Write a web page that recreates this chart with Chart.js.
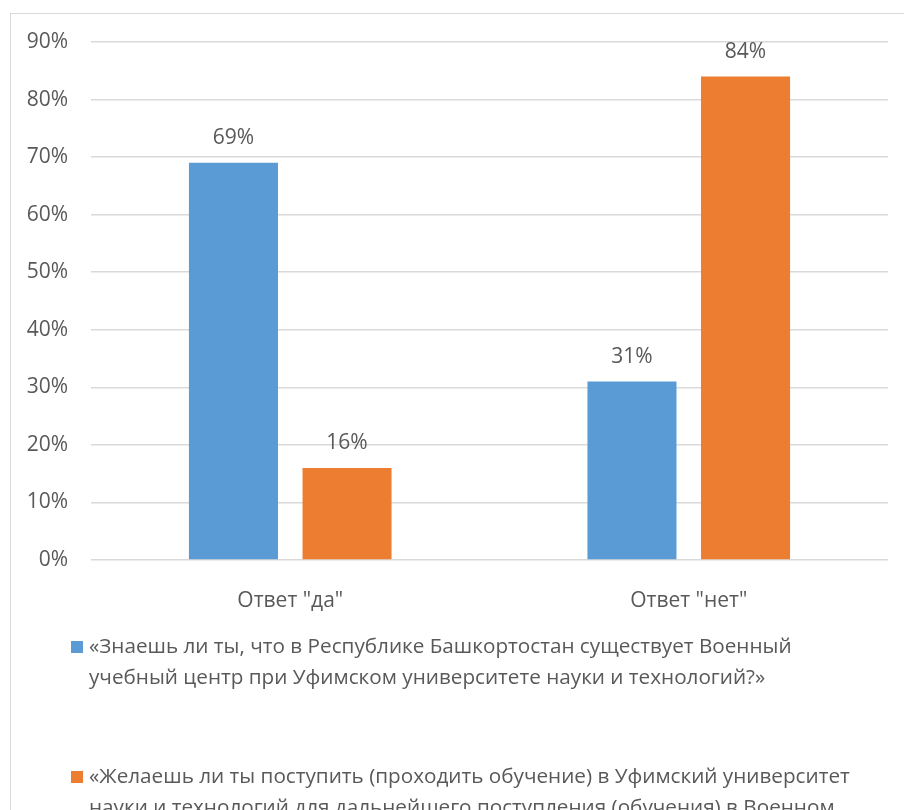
<!DOCTYPE html>
<html>
<head>
<meta charset="utf-8">
<script src="https://cdn.jsdelivr.net/npm/chart.js@4"></script>
<style>
  html, body { margin: 0; padding: 0; background: #fff; overflow: hidden; }
  canvas { display: block; }
</style>
</head>
<body>
<canvas id="grafico" width="904" height="810"></canvas>
<script>
const categorias = ['Ответ "да"', 'Ответ "нет"'];
const znaesh = [69, 31];
const zhelaesh = [16, 84];
const legendaZnaesh = [
  '«Знаешь ли ты, что в Республике Башкортостан существует Военный',
  'учебный центр при Уфимском университете науки и технологий?»'
];
const legendaZhelaesh = [
  '«Желаешь ли ты поступить (проходить обучение) в Уфимский университет',
  'науки и технологий для дальнейшего поступления (обучения) в Военном',
  'учебном центре?»'
];
const yMax = 90;
const yStep = 10;

const FONTE = '"Open Sans", sans-serif';
const COR_TEXTO = '#595959';
const COR_GRADE = '#d9d9d9';

Chart.defaults.font.family = FONTE;
Chart.defaults.font.size = 21;
Chart.defaults.color = COR_TEXTO;

// moldura cinza e fundo branco
const moldura = {
  id: 'moldura',
  beforeDraw(chart) {
    const ctx = chart.ctx;
    ctx.save();
    ctx.fillStyle = '#fff';
    ctx.fillRect(0, 0, chart.width, chart.height);
    ctx.strokeStyle = COR_GRADE;
    ctx.lineWidth = 1;
    ctx.strokeRect(10.5, 13.5, 1200, 1200);
    ctx.restore();
  }
};

// rótulos de valor acima das barras
const rotulos = {
  id: 'rotulos',
  afterDatasetsDraw(chart) {
    const ctx = chart.ctx;
    ctx.save();
    ctx.font = '21px ' + FONTE;
    ctx.fillStyle = COR_TEXTO;
    ctx.textAlign = 'center';
    ctx.textBaseline = 'middle';
    chart.data.datasets.forEach((ds, i) => {
      chart.getDatasetMeta(i).data.forEach((bar, j) => {
        ctx.fillText(ds.data[j] + '%', bar.x, bar.y - 25);
      });
    });
    ctx.restore();
  }
};

// legenda em várias linhas abaixo do gráfico
const legenda = {
  id: 'legenda',
  afterDraw(chart) {
    const ctx = chart.ctx;
    ctx.save();
    ctx.font = '20.7px ' + FONTE;
    ctx.textBaseline = 'middle';
    ctx.textAlign = 'left';
    chart.data.datasets.forEach((ds, i) => {
      const y0 = 647 + i * 130;
      ctx.fillStyle = ds.backgroundColor;
      ctx.fillRect(71, y0 - 6, 12, 12);
      ctx.fillStyle = COR_TEXTO;
      ds.linhas.forEach((linha, k) => ctx.fillText(linha, 89, y0 + k * 31.5));
    });
    ctx.restore();
  }
};

const ctx = document.getElementById('grafico').getContext('2d');
new Chart(ctx, {
  type: 'bar',
  data: {
    labels: categorias,
    datasets: [
      {
        label: legendaZnaesh.join(' '),
        linhas: legendaZnaesh,
        data: znaesh,
        backgroundColor: '#5b9bd5',
        categoryPercentage: 0.57,
        barPercentage: 0.784
      },
      {
        label: legendaZhelaesh.join(' '),
        linhas: legendaZhelaesh,
        data: zhelaesh,
        backgroundColor: '#ed7d31',
        categoryPercentage: 0.57,
        barPercentage: 0.784
      }
    ]
  },
  options: {
    responsive: false,
    animation: false,
    devicePixelRatio: 1,
    layout: { padding: { top: 42, right: 16, bottom: 190, left: 0 } },
    plugins: {
      legend: { display: false },
      tooltip: { enabled: false }
    },
    scales: {
      x: {
        grid: { display: false },
        border: { display: false },
        ticks: { padding: 20, maxRotation: 0 },
        afterFit(scale) { scale.height = 60; }
      },
      y: {
        min: 0,
        max: yMax,
        grid: { color: COR_GRADE, lineWidth: 1.5, drawTicks: false },
        border: { display: false },
        ticks: {
          stepSize: yStep,
          padding: 23,
          callback: (v) => v + '%'
        },
        afterFit(scale) { scale.width = 91; }
      }
    }
  },
  plugins: [moldura, rotulos, legenda]
});
</script>
</body>
</html>
